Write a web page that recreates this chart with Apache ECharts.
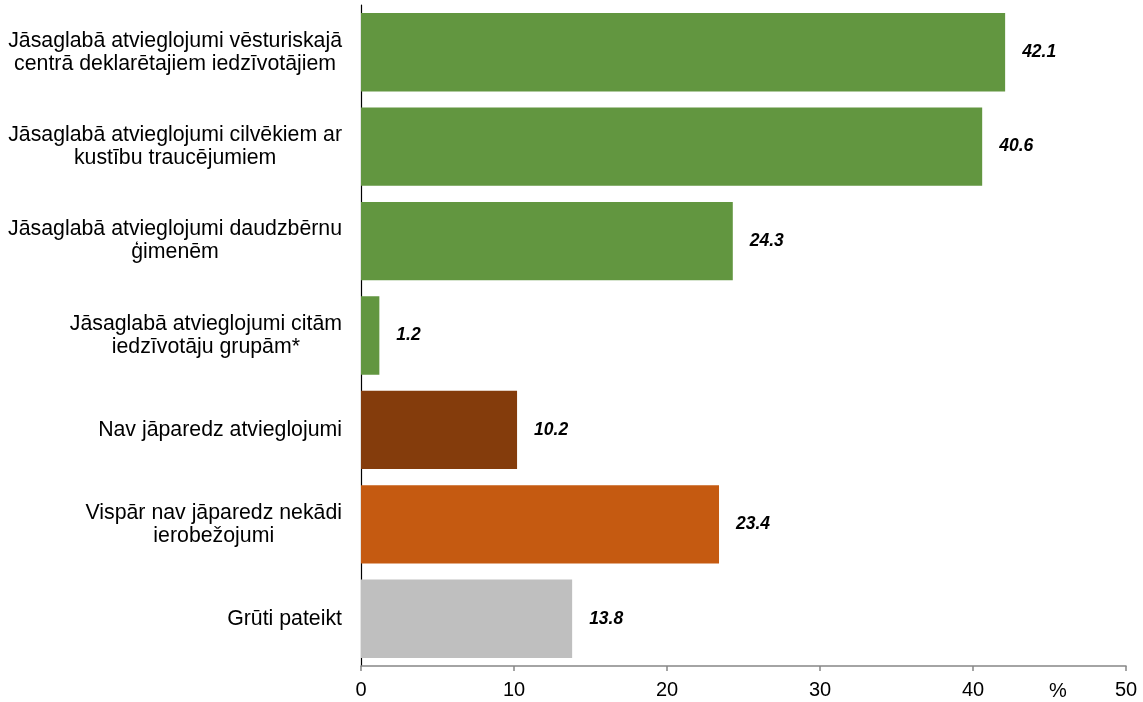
<!DOCTYPE html>
<html>
<head>
<meta charset="utf-8">
<script src="https://cdn.jsdelivr.net/npm/echarts@6/dist/echarts.min.js"></script>
<style>
    html, body { margin: 0; padding: 0; background: #fff; }
    #chart { width: 1143px; height: 702px; }
</style>
</head>
<body>
<div id="chart"></div>
<script>
    // kategorijas (no augšas uz leju)
    const categories = [
        'Jāsaglabā atvieglojumi vēsturiskajā\ncentrā deklarētajiem iedzīvotājiem',
        'Jāsaglabā atvieglojumi cilvēkiem ar\nkustību traucējumiem',
        'Jāsaglabā atvieglojumi daudzbērnu\nģimenēm',
        'Jāsaglabā atvieglojumi citām\niedzīvotāju grupām*',
        'Nav jāparedz atvieglojumi',
        'Vispār nav jāparedz nekādi\nierobežojumi',
        'Grūti pateikt'
    ];
    const values = [42.1, 40.6, 24.3, 1.2, 10.2, 23.4, 13.8];
    const barColors = ['#629640', '#629640', '#629640', '#629640', '#843c0c', '#c55a11', '#bfbfbf'];

    const chart = echarts.init(document.getElementById('chart'));
    const font = 'Liberation Sans, Arial, sans-serif';

    const option = {
        animation: false,
        textStyle: { fontFamily: font },
        grid: { left: 361, right: 17, top: 5, bottom: 36, containLabel: false },
        xAxis: {
            type: 'value',
            min: 0,
            max: 50,
            interval: 10,
            splitLine: { show: false },
            axisLine: { show: true, lineStyle: { color: '#868686', width: 1.5 } },
            axisTick: { show: true, length: 5, lineStyle: { color: '#868686', width: 1.5 } },
            axisLabel: { color: '#000', fontSize: 20, margin: 14, fontFamily: font }
        },
        yAxis: {
            type: 'category',
            inverse: true,
            data: categories,
            axisLine: { show: true, lineStyle: { color: '#000', width: 1.2 } },
            axisTick: { show: false },
            axisLabel: {
                margin: 19,
                fontFamily: font,
                formatter: function (v) {
                    return v.split('\n').map(function (l) { return '{c|' + l + '}'; }).join('\n');
                },
                rich: {
                    c: { align: 'center', fontSize: 21.3, color: '#000', lineHeight: 23, fontFamily: font }
                }
            }
        },
        graphic: [{
            type: 'text',
            left: 1049,
            top: 681,
            style: { text: '%', fill: '#000', font: '20px ' + font }
        }],
        series: [{
            type: 'bar',
            data: values.map(function (v, i) {
                return { value: v, itemStyle: { color: barColors[i] } };
            }),
            barCategoryGap: '17%',
            label: {
                show: true,
                position: 'right',
                distance: 17,
                color: '#000',
                fontSize: 17.5,
                fontWeight: 'bold',
                fontStyle: 'italic',
                fontFamily: font,
                formatter: function (p) { return p.value.toFixed(1); }
            }
        }]
    };
    chart.setOption(option);
</script>
</body>
</html>
